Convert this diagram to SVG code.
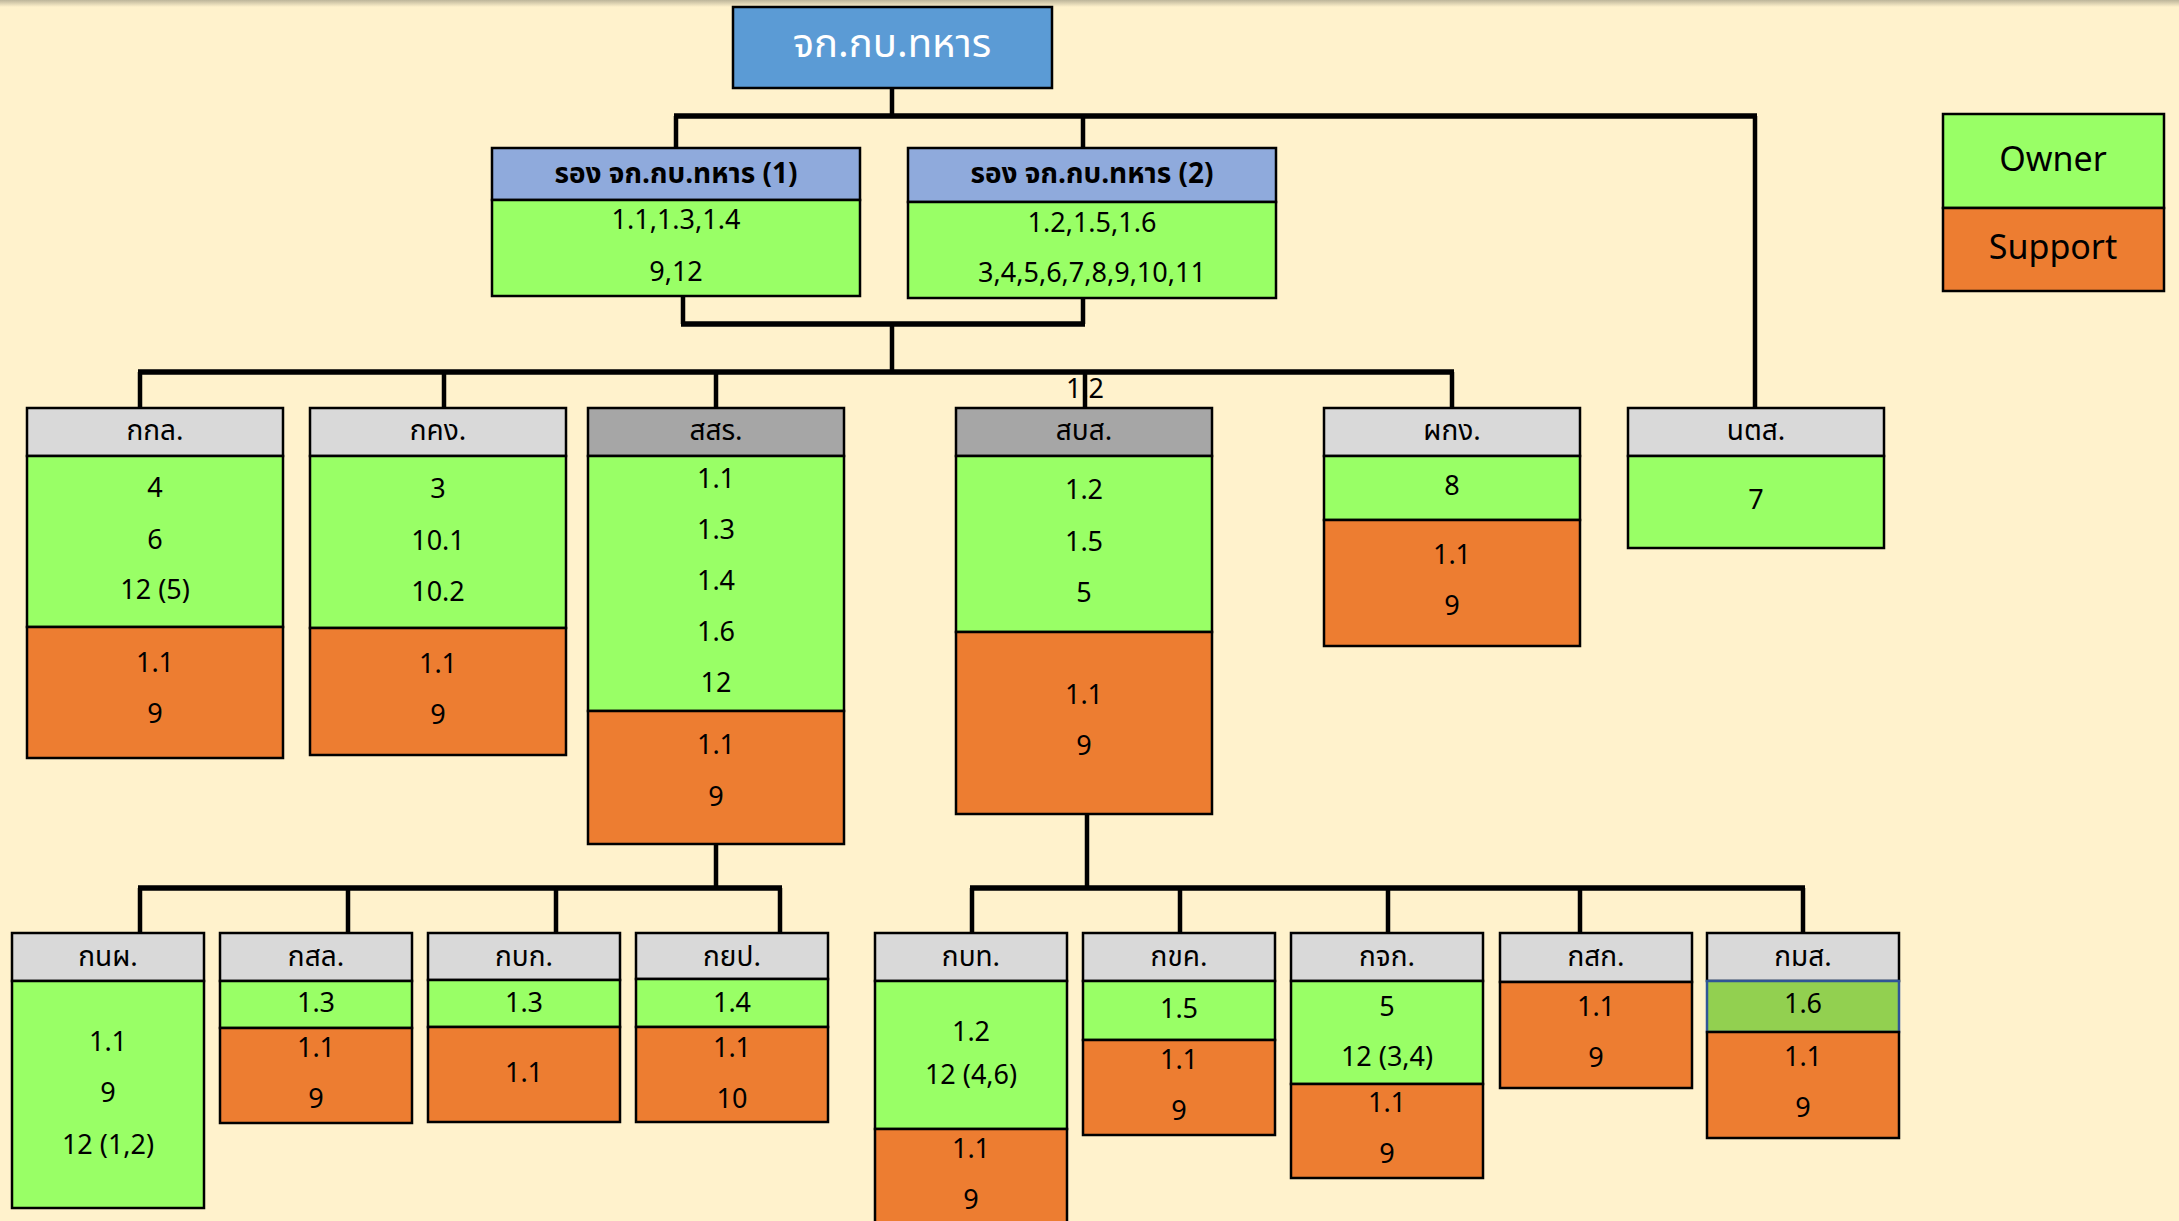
<svg xmlns="http://www.w3.org/2000/svg" width="2179" height="1221" viewBox="0 0 2179 1221">
<defs>
<linearGradient id="topShade" x1="0" y1="0" x2="0" y2="1">
<stop offset="0" stop-color="#bdb59a"/>
<stop offset="1" stop-color="#fff2cc"/>
</linearGradient>
</defs>
<style>
text{font-family:"Noto Sans Thai","Noto Sans","Liberation Sans",sans-serif;text-anchor:middle;dominant-baseline:central;fill:#000}
.n{font-size:27px}
.h{font-size:28px}
.hb{font-size:28px;font-weight:bold}
.title{font-size:40px;fill:#fff}
.leg{font-size:34px}
.b{stroke:#000;stroke-width:2.5}
.top{fill:#5b9bd5}
.dh{fill:#8faadc}
.lh{fill:#d9d9d9}
.gh{fill:#a6a6a6}
.g{fill:#99ff66}
.g2{fill:#92d050;stroke:#2f5597}
.o{fill:#ed7d31}
.c path{stroke:#000;fill:none}
.c .hz{stroke-width:5.5}
.c .vt{stroke-width:4.5}
</style>
<rect x="0" y="0" width="2179" height="1221" style="fill:#fff2cc;stroke:none"/>
<rect x="0" y="0" width="2179" height="7" style="fill:url(#topShade);stroke:none"/>

<g id="connectors" class="c">
<text class="n" x="1085" y="389">1.2</text>
<path class="vt" d="M892 88V116M676 116V148M1083 116V148M1755 116V408"/>
<path class="vt" d="M683 296V324M1083 298V324M892 324V372"/>
<path class="vt" d="M140 372V408M444 372V408M716 372V408M1085 372V408M1452 372V408"/>
<path class="vt" d="M716 844V888M140 888V933M348 888V933M556 888V933M780 888V933"/>
<path class="vt" d="M1087 814V888M972 888V933M1180 888V933M1388 888V933M1580 888V933M1803 888V933"/>
<path class="hz" d="M674 116H1757M681 324H1085M138 372H1454M138 888H782M970 888H1805"/>
</g>

<g id="n-top">
<rect class="b top" x="733" y="7" width="319" height="81"/>
<text class="title" x="892" y="45">จก.กบ.ทหาร</text>
</g>

<g id="n-deputy1">
<rect class="b dh" x="492" y="148" width="368" height="52"/>
<rect class="b g" x="492" y="200" width="368" height="96"/>
<text class="hb" x="676" y="174">รอง จก.กบ.ทหาร (1)</text>
<text class="n" x="676" y="220">1.1,1.3,1.4</text>
<text class="n" x="676" y="272">9,12</text>
</g>

<g id="n-deputy2">
<rect class="b dh" x="908" y="148" width="368" height="54"/>
<rect class="b g" x="908" y="202" width="368" height="96"/>
<text class="hb" x="1092" y="174">รอง จก.กบ.ทหาร (2)</text>
<text class="n" x="1092" y="223">1.2,1.5,1.6</text>
<text class="n" x="1092" y="273">3,4,5,6,7,8,9,10,11</text>
</g>

<g id="n-kkl">
<rect class="b lh" x="27" y="408" width="256" height="48"/>
<rect class="b g" x="27" y="456" width="256" height="171"/>
<rect class="b o" x="27" y="627" width="256" height="131"/>
<text class="h" x="155" y="431">กกล.</text>
<text class="n" x="155" y="488">4</text>
<text class="n" x="155" y="540">6</text>
<text class="n" x="155" y="590">12 (5)</text>
<text class="n" x="155" y="663">1.1</text>
<text class="n" x="155" y="714">9</text>
</g>

<g id="n-kkng">
<rect class="b lh" x="310" y="408" width="256" height="48"/>
<rect class="b g" x="310" y="456" width="256" height="172"/>
<rect class="b o" x="310" y="628" width="256" height="127"/>
<text class="h" x="438" y="431">กคง.</text>
<text class="n" x="438" y="489">3</text>
<text class="n" x="438" y="541">10.1</text>
<text class="n" x="438" y="592">10.2</text>
<text class="n" x="438" y="664">1.1</text>
<text class="n" x="438" y="715">9</text>
</g>

<g id="n-ssr">
<rect class="b gh" x="588" y="408" width="256" height="48"/>
<rect class="b g" x="588" y="456" width="256" height="255"/>
<rect class="b o" x="588" y="711" width="256" height="133"/>
<text class="h" x="716" y="431">สสร.</text>
<text class="n" x="716" y="479">1.1</text>
<text class="n" x="716" y="530">1.3</text>
<text class="n" x="716" y="581">1.4</text>
<text class="n" x="716" y="632">1.6</text>
<text class="n" x="716" y="683">12</text>
<text class="n" x="716" y="745">1.1</text>
<text class="n" x="716" y="797">9</text>
</g>

<g id="n-sbs">
<rect class="b gh" x="956" y="408" width="256" height="48"/>
<rect class="b g" x="956" y="456" width="256" height="176"/>
<rect class="b o" x="956" y="632" width="256" height="182"/>
<text class="h" x="1084" y="431">สบส.</text>
<text class="n" x="1084" y="490">1.2</text>
<text class="n" x="1084" y="542">1.5</text>
<text class="n" x="1084" y="593">5</text>
<text class="n" x="1084" y="695">1.1</text>
<text class="n" x="1084" y="746">9</text>
</g>

<g id="n-pkng">
<rect class="b lh" x="1324" y="408" width="256" height="48"/>
<rect class="b g" x="1324" y="456" width="256" height="64"/>
<rect class="b o" x="1324" y="520" width="256" height="126"/>
<text class="h" x="1452" y="431">ผกง.</text>
<text class="n" x="1452" y="486">8</text>
<text class="n" x="1452" y="555">1.1</text>
<text class="n" x="1452" y="606">9</text>
</g>

<g id="n-ntss">
<rect class="b lh" x="1628" y="408" width="256" height="48"/>
<rect class="b g" x="1628" y="456" width="256" height="92"/>
<text class="h" x="1756" y="431">นตส.</text>
<text class="n" x="1756" y="500">7</text>
</g>

<g id="n-knp">
<rect class="b lh" x="12" y="933" width="192" height="48"/>
<rect class="b g" x="12" y="981" width="192" height="227"/>
<text class="h" x="108" y="957">กนผ.</text>
<text class="n" x="108" y="1042">1.1</text>
<text class="n" x="108" y="1093">9</text>
<text class="n" x="108" y="1145">12 (1,2)</text>
</g>

<g id="n-ksl">
<rect class="b lh" x="220" y="933" width="192" height="48"/>
<rect class="b g" x="220" y="981" width="192" height="47"/>
<rect class="b o" x="220" y="1028" width="192" height="95"/>
<text class="h" x="316" y="957">กสล.</text>
<text class="n" x="316" y="1003">1.3</text>
<text class="n" x="316" y="1048">1.1</text>
<text class="n" x="316" y="1099">9</text>
</g>

<g id="n-kbk">
<rect class="b lh" x="428" y="933" width="192" height="47"/>
<rect class="b g" x="428" y="980" width="192" height="47"/>
<rect class="b o" x="428" y="1027" width="192" height="95"/>
<text class="h" x="524" y="957">กบก.</text>
<text class="n" x="524" y="1003">1.3</text>
<text class="n" x="524" y="1073">1.1</text>
</g>

<g id="n-kyp">
<rect class="b lh" x="636" y="933" width="192" height="46"/>
<rect class="b g" x="636" y="979" width="192" height="48"/>
<rect class="b o" x="636" y="1027" width="192" height="95"/>
<text class="h" x="732" y="957">กยป.</text>
<text class="n" x="732" y="1003">1.4</text>
<text class="n" x="732" y="1048">1.1</text>
<text class="n" x="732" y="1099">10</text>
</g>

<g id="n-kbt">
<rect class="b lh" x="875" y="933" width="192" height="48"/>
<rect class="b g" x="875" y="981" width="192" height="148"/>
<rect class="b o" x="875" y="1129" width="192" height="110"/>
<text class="h" x="971" y="957">กบท.</text>
<text class="n" x="971" y="1032">1.2</text>
<text class="n" x="971" y="1075">12 (4,6)</text>
<text class="n" x="971" y="1149">1.1</text>
<text class="n" x="971" y="1200">9</text>
</g>

<g id="n-kkk">
<rect class="b lh" x="1083" y="933" width="192" height="48"/>
<rect class="b g" x="1083" y="981" width="192" height="59"/>
<rect class="b o" x="1083" y="1040" width="192" height="95"/>
<text class="h" x="1179" y="957">กขค.</text>
<text class="n" x="1179" y="1009">1.5</text>
<text class="n" x="1179" y="1060">1.1</text>
<text class="n" x="1179" y="1111">9</text>
</g>

<g id="n-kjk">
<rect class="b lh" x="1291" y="933" width="192" height="48"/>
<rect class="b g" x="1291" y="981" width="192" height="103"/>
<rect class="b o" x="1291" y="1084" width="192" height="94"/>
<text class="h" x="1387" y="957">กจก.</text>
<text class="n" x="1387" y="1007">5</text>
<text class="n" x="1387" y="1057">12 (3,4)</text>
<text class="n" x="1387" y="1103">1.1</text>
<text class="n" x="1387" y="1154">9</text>
</g>

<g id="n-ksk">
<rect class="b lh" x="1500" y="933" width="192" height="49"/>
<rect class="b o" x="1500" y="982" width="192" height="106"/>
<text class="h" x="1596" y="957">กสก.</text>
<text class="n" x="1596" y="1007">1.1</text>
<text class="n" x="1596" y="1058">9</text>
</g>

<g id="n-kms">
<rect class="b lh" x="1707" y="933" width="192" height="48"/>
<rect class="b g2" x="1707" y="981" width="192" height="51"/>
<rect class="b o" x="1707" y="1032" width="192" height="106"/>
<text class="h" x="1803" y="957">กมส.</text>
<text class="n" x="1803" y="1004">1.6</text>
<text class="n" x="1803" y="1057">1.1</text>
<text class="n" x="1803" y="1108">9</text>
</g>

<g id="legend">
<rect class="b g" x="1943" y="114" width="221" height="94"/>
<rect class="b o" x="1943" y="208" width="221" height="83"/>
<text class="leg" x="2053" y="160">Owner</text>
<text class="leg" x="2053" y="248">Support</text>
</g>
</svg>
